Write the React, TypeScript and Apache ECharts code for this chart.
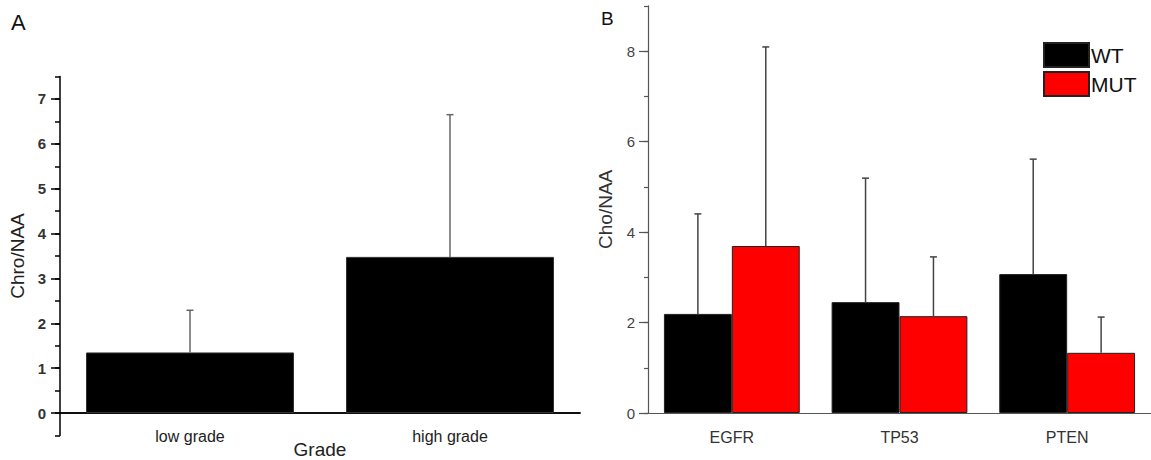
import React, { useEffect, useRef } from "react";
import * as echarts from "echarts";

// Panel A data
const aCategories = ["low grade", "high grade"];
const aMeans = [1.35, 3.48];
const aUpper = [2.29, 6.65];

// Panel B data
const bCategories = ["EGFR", "TP53", "PTEN"];
const bWT = [2.19, 2.45, 3.07];
const bWTUpper = [4.4, 5.19, 5.61];
const bMUT = [3.69, 2.14, 1.33];
const bMUTUpper = [8.09, 3.45, 2.12];

const FONT = "'Liberation Sans', Arial, sans-serif";

// layout
const aZeroY = 413;
const aUnit = 44.86;
const bZeroY = 413;
const bUnit = 45.25;
const bGap = 0.19;

function errRender(offsetFrac: number, color: string) {
  return (params: any, api: any) => {
    const idx = api.value(0);
    const lo = api.coord([idx, api.value(1)]);
    const hi = api.coord([idx, api.value(2)]);
    const w = api.size([1, 0])[0];
    const x = lo[0] + offsetFrac * w;
    return {
      type: "group",
      children: [
        { type: "line", shape: { x1: x, y1: lo[1], x2: x, y2: hi[1] }, style: { stroke: color, lineWidth: 1.5 } },
        { type: "line", shape: { x1: x - 3.5, y1: hi[1], x2: x + 3.5, y2: hi[1] }, style: { stroke: color, lineWidth: 1.5 } },
      ],
    };
  };
}

export default function App() {
  const ref = useRef<HTMLDivElement>(null);
  useEffect(() => {
    if (!ref.current) return;
    const chart = echarts.init(ref.current, undefined, { renderer: "svg" });
    const aLine = { color: "#000", width: 1.5 };
    const bLine = { color: "#555", width: 1.2 };
    const gridBase = { outerBoundsMode: "none", containLabel: false };
    const option: any = {
      animation: false,
      backgroundColor: "#fff",
      textStyle: { fontFamily: FONT },
      grid: [
        { ...gridBase, left: 60, width: 520, top: aZeroY - 7.5 * aUnit, height: 8 * aUnit },
        { ...gridBase, left: 60, width: 520, top: aZeroY - 7 * aUnit, height: 7 * aUnit },
        { ...gridBase, left: 648, right: 0, top: bZeroY - 9 * bUnit, height: 9 * bUnit },
        { ...gridBase, left: 648, right: 0, top: bZeroY - 8 * bUnit, height: 8 * bUnit },
      ],
      xAxis: [
        { gridIndex: 0, type: "category", data: aCategories, show: false },
        {
          gridIndex: 1, type: "category", data: aCategories, position: "bottom",
          axisLine: { onZero: false, lineStyle: aLine },
          axisTick: { alignWithLabel: true, length: 8, lineStyle: aLine },
          axisLabel: { fontSize: 16, color: "#222", margin: 15, fontFamily: FONT },
          name: "Grade", nameLocation: "middle", nameGap: 27, nameMoveOverlap: false,
          nameTextStyle: { fontSize: 19, color: "#222", fontFamily: FONT, lineHeight: 19 },
        },
        {
          gridIndex: 1, type: "category", data: aCategories, position: "bottom",
          axisLine: { onZero: false, lineStyle: aLine },
          axisTick: { alignWithLabel: false, length: 4, lineStyle: aLine },
          axisLabel: { show: false },
        },
        {
          gridIndex: 2, type: "category", data: bCategories, position: "bottom",
          axisLine: { onZero: false, lineStyle: bLine },
          axisTick: { alignWithLabel: true, length: 9, lineStyle: bLine },
          axisLabel: { fontSize: 16, color: "#333", margin: 16, fontFamily: FONT },
        },
        {
          gridIndex: 2, type: "category", data: bCategories, position: "bottom",
          axisLine: { onZero: false, lineStyle: bLine },
          axisTick: { alignWithLabel: false, length: 5, lineStyle: bLine },
          axisLabel: { show: false },
        },
        { gridIndex: 3, type: "category", data: bCategories, show: false },
      ],
      yAxis: [
        {
          gridIndex: 0, type: "value", min: -0.5, max: 7.5, interval: 0.5,
          axisLine: { show: true, onZero: false, lineStyle: aLine },
          axisTick: { show: true, length: 5, lineStyle: aLine },
          axisLabel: { show: false },
          splitLine: { show: false },
          name: "Chro/NAA", nameLocation: "middle", nameGap: 33,
          nameTextStyle: { fontSize: 19, color: "#222", fontFamily: FONT },
        },
        {
          gridIndex: 1, type: "value", min: 0, max: 7, interval: 1,
          axisLine: { show: false, onZero: false },
          axisTick: { show: true, length: 9, lineStyle: aLine },
          axisLabel: { fontSize: 15, fontWeight: "bold", color: "#333", margin: 14, fontFamily: FONT },
          splitLine: { show: false },
        },
        {
          gridIndex: 2, type: "value", min: 0, max: 9, interval: 1,
          axisLine: { show: true, onZero: false, lineStyle: bLine },
          axisTick: { show: true, length: 4, lineStyle: bLine },
          axisLabel: { show: false },
          splitLine: { show: false },
          name: "Cho/NAA", nameLocation: "middle", nameGap: 33,
          nameTextStyle: { fontSize: 19, color: "#333", fontFamily: FONT },
        },
        {
          gridIndex: 3, type: "value", min: 0, max: 8, interval: 2,
          axisLine: { show: false, onZero: false },
          axisTick: { show: true, length: 9, lineStyle: bLine },
          axisLabel: { fontSize: 15, color: "#444", margin: 13, fontFamily: FONT },
          splitLine: { show: false },
        },
      ],
      legend: {
        data: ["WT", "MUT"],
        orient: "vertical",
        left: 1043,
        top: 42,
        padding: 0,
        itemWidth: 45,
        itemHeight: 24,
        itemGap: 3,
        icon: "rect",
        textStyle: { fontSize: 21, color: "#111", fontFamily: FONT, padding: [0, 0, 0, -3] },
      },
      graphic: [
        { type: "text", left: 11, top: 11, style: { text: "A", fontSize: 22, fill: "#111", fontFamily: FONT } },
        { type: "text", left: 601, top: 9, style: { text: "B", fontSize: 19, fill: "#111", fontFamily: FONT } },
      ],
      series: [
        {
          type: "bar", xAxisIndex: 1, yAxisIndex: 1, data: aMeans,
          barCategoryGap: "20%",
          itemStyle: { color: "#000", borderColor: "#333", borderWidth: 1 },
        },
        {
          type: "custom", xAxisIndex: 1, yAxisIndex: 1, z: 5,
          renderItem: errRender(0, "#666"),
          data: aCategories.map((c, i) => [i, aMeans[i], aUpper[i]]),
        },
        {
          name: "WT", type: "bar", xAxisIndex: 3, yAxisIndex: 2, data: bWT,
          barGap: "0%", barCategoryGap: bGap * 100 + "%",
          itemStyle: { color: "#000", borderColor: "#222", borderWidth: 1 },
        },
        {
          name: "MUT", type: "bar", xAxisIndex: 3, yAxisIndex: 2, data: bMUT,
          barGap: "0%", barCategoryGap: bGap * 100 + "%",
          itemStyle: { color: "#ff0000", borderColor: "#222", borderWidth: 1 },
        },
        {
          type: "custom", xAxisIndex: 3, yAxisIndex: 2, z: 5,
          renderItem: errRender(-(1 - bGap) / 4, "#444"),
          data: bCategories.map((c, i) => [i, bWT[i], bWTUpper[i]]),
        },
        {
          type: "custom", xAxisIndex: 3, yAxisIndex: 2, z: 5,
          renderItem: errRender((1 - bGap) / 4, "#444"),
          data: bCategories.map((c, i) => [i, bMUT[i], bMUTUpper[i]]),
        },
      ],
    };
    chart.setOption(option);
    return () => chart.dispose();
  }, []);
  return (
    <div
      ref={ref}
      style={{ position: "absolute", left: 0, top: 0, width: 1151, height: 460 }}
    />
  );
}
